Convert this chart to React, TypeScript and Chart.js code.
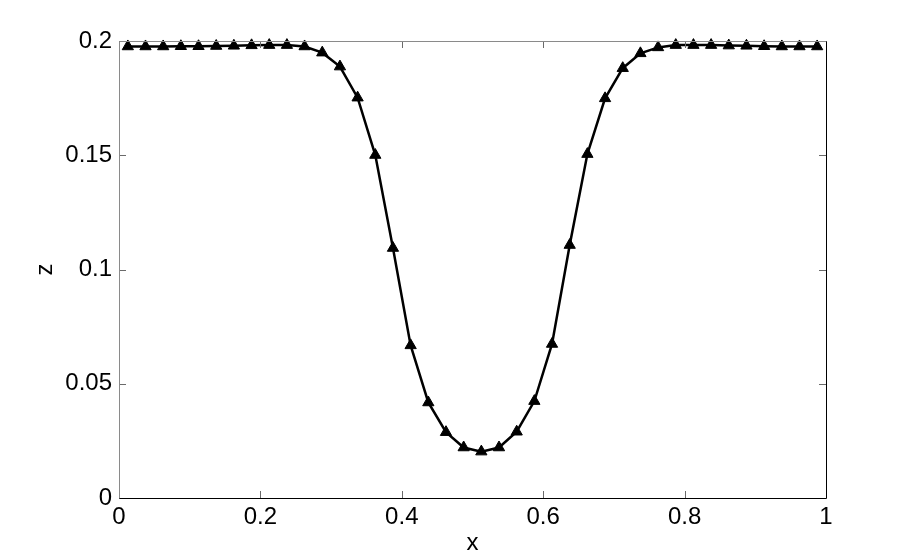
import React, { useEffect, useRef } from "react";
import { Chart, registerables } from "chart.js";

Chart.register(...registerables);

const xValues: number[] = [
  0.0125, 0.0375, 0.0625, 0.0875, 0.1125, 0.1375, 0.1625, 0.1875, 0.2125, 0.2375,
  0.2625, 0.2875, 0.3125, 0.3375, 0.3625, 0.3875, 0.4125, 0.4375, 0.4625, 0.4875,
  0.5125, 0.5375, 0.5625, 0.5875, 0.6125, 0.6375, 0.6625, 0.6875, 0.7125, 0.7375,
  0.7625, 0.7875, 0.8125, 0.8375, 0.8625, 0.8875, 0.9125, 0.9375, 0.9625, 0.9875,
];

const zValues: number[] = [
  0.1976, 0.1976, 0.1976, 0.1977, 0.1977, 0.1978, 0.1979, 0.1981, 0.1982, 0.1982,
  0.1976, 0.1949, 0.1888, 0.1752, 0.1501, 0.1094, 0.0668, 0.0418, 0.0288, 0.0221,
  0.0203, 0.0221, 0.0290, 0.0424, 0.0674, 0.1107, 0.1505, 0.1749, 0.1881, 0.1946,
  0.1972, 0.1982, 0.1982, 0.1982, 0.1980, 0.1979, 0.1977, 0.1976, 0.1976, 0.1976,
];

const xTicks: number[] = [0, 0.2, 0.4, 0.6, 0.8, 1];
const yTicks: number[] = [0, 0.05, 0.1, 0.15, 0.2];
const xTitle = "x";
const yTitle = "z";

const FONT = "'Liberation Sans', Arial, Helvetica, sans-serif";

const boxPlugin = {
  id: "matlabBox",
  afterDraw(chart: any) {
    const { ctx, chartArea } = chart;
    const { left, right, top, bottom } = chartArea;
    const xs = chart.scales.x;
    const ys = chart.scales.y;
    const tl = 7;
    ctx.save();
    ctx.lineWidth = 1;
    ctx.strokeStyle = "#6a6a6a";
    ctx.beginPath();
    xTicks.forEach((v) => {
      const px = Math.round(xs.getPixelForValue(v)) + 0.5;
      ctx.moveTo(px, bottom);
      ctx.lineTo(px, bottom - tl);
      ctx.moveTo(px, top);
      ctx.lineTo(px, top + tl);
    });
    yTicks.forEach((v) => {
      const py = Math.round(ys.getPixelForValue(v)) + 0.5;
      ctx.moveTo(left, py);
      ctx.lineTo(left + tl, py);
      ctx.moveTo(right, py);
      ctx.lineTo(right - tl, py);
    });
    ctx.stroke();
    const L = Math.round(left) + 0.5;
    const R = Math.round(right) + 0.5;
    const T = Math.round(top) + 0.5;
    const B = Math.round(bottom) + 0.5;
    ctx.strokeStyle = "#8a8a8a";
    ctx.beginPath();
    ctx.moveTo(L, B);
    ctx.lineTo(L, T);
    ctx.lineTo(R, T);
    ctx.stroke();
    ctx.strokeStyle = "#000000";
    ctx.beginPath();
    ctx.moveTo(L, B);
    ctx.lineTo(R, B);
    ctx.lineTo(R, T);
    ctx.stroke();
    ctx.restore();
  },
};

export default function App() {
  const canvasRef = useRef<HTMLCanvasElement | null>(null);

  useEffect(() => {
    if (!canvasRef.current) return;
    const chart = new Chart(canvasRef.current, {
      type: "line",
      data: {
        datasets: [
          {
            data: xValues.map((x, i) => ({ x, y: zValues[i] })),
            borderColor: "#000000",
            backgroundColor: "#000000",
            borderWidth: 2.5,
            pointStyle: "triangle",
            pointRadius: 6.5,
            pointBorderWidth: 1,
            pointBackgroundColor: "#000000",
            pointBorderColor: "#000000",
            tension: 0,
            clip: false as any,
          },
        ],
      },
      options: {
        animation: false,
        responsive: false,
        maintainAspectRatio: false,
        layout: { padding: { top: 41, right: 87, left: 0, bottom: 0 } },
        plugins: {
          legend: { display: false },
          tooltip: { enabled: false },
        },
        scales: {
          x: {
            type: "linear",
            min: 0,
            max: 1,
            grid: { display: false, drawTicks: false },
            border: { display: false },
            afterBuildTicks: (s: any) => {
              s.ticks = xTicks.map((v) => ({ value: v }));
            },
            afterFit: (s: any) => {
              s.height = 62;
            },
            ticks: {
              color: "#000000",
              padding: 5,
              font: { family: FONT, size: 24 },
              callback: (v: any) => String(Number(v)),
              autoSkip: false,
              maxRotation: 0,
            },
            title: {
              display: true,
              text: xTitle,
              color: "#000000",
              font: { family: FONT, size: 24 },
              padding: { top: 0, bottom: 2 },
            },
          },
          y: {
            type: "linear",
            min: 0,
            max: 0.2,
            grid: { display: false, drawTicks: false },
            border: { display: false },
            afterBuildTicks: (s: any) => {
              s.ticks = yTicks.map((v) => ({ value: v }));
            },
            afterFit: (s: any) => {
              s.width = 119;
            },
            ticks: {
              color: "#000000",
              padding: 7,
              font: { family: FONT, size: 24 },
              callback: (v: any) => String(Number(v)),
              autoSkip: false,
            },
            title: {
              display: true,
              text: yTitle,
              color: "#000000",
              font: { family: FONT, size: 24 },
              padding: { top: 31, bottom: 0 },
            },
          },
        },
      },
      plugins: [boxPlugin],
    });
    return () => chart.destroy();
  }, []);

  return (
    <div style={{ position: "fixed", left: 0, top: 0, width: 913, height: 560, background: "#ffffff" }}>
      <canvas ref={canvasRef} width={913} height={560} style={{ width: 913, height: 560, display: "block" }} />
    </div>
  );
}
